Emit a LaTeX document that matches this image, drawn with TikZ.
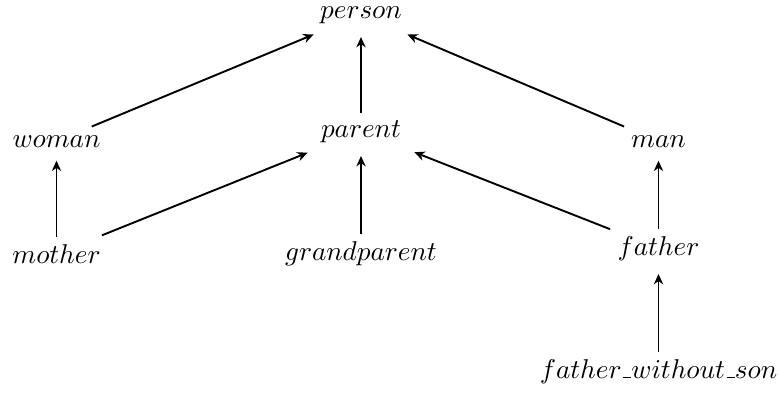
\documentclass[tikz,border=0pt]{standalone}
\usetikzlibrary{arrows.meta}
\newcommand\usc{\leavevmode\kern.06em\vbox{\hrule width.3em}}
\begin{document}
\begin{tikzpicture}[x=0.3676pt,y=-0.3676pt,
  lbl/.style={anchor=base,inner sep=0.3333em},
  edge/.style={-{Stealth[length=3.8pt,width=3.4pt,inset=1.2pt]},line width=0.7pt,
    shorten >=1.5pt,shorten <=-0.8pt}]
\useasboundingbox (0,0) rectangle (779,393);
\node[lbl] (person) at (361,18) {$person$};
\node[lbl] (woman) at (56.5,147) {$woman$};
\node[lbl] (parent) at (361,137) {$parent$};
\node[lbl] (man) at (658.5,147) {$man$};
\node[lbl] (mother) at (56.5,263) {$mother$};
\node[lbl] (grandparent) at (361,260) {$grandparent$};
\node[lbl] (father) at (658.5,255) {$father$};
\node[lbl] (fws) at (658.5,378) {$father\usc without\usc son$};
\draw[edge] (woman) -- (person);
\draw[edge] (parent) -- (person);
\draw[edge] (man) -- (person);
\draw[edge] (mother) -- (woman);
\draw[edge] (mother) -- (parent);
\draw[edge] (grandparent) -- (parent);
\draw[edge] (father) -- (parent);
\draw[edge] (father) -- (man);
\draw[edge] (fws) -- (father);
\end{tikzpicture}
\end{document}
